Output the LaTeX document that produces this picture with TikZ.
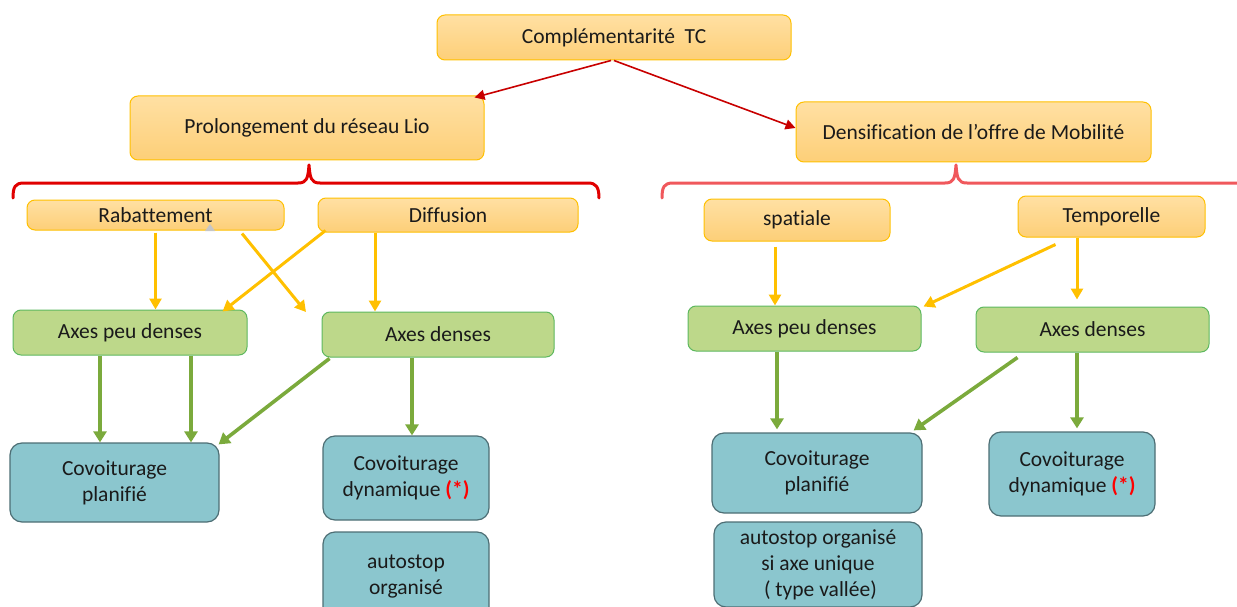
\documentclass[tikz,border=0pt]{standalone}
\usepackage{fontspec}
\setmainfont[Ligatures=CommonOff]{Carlito}
\usetikzlibrary{arrows.meta}
\definecolor{ogTop}{HTML}{FFE0A3}
\definecolor{ogBot}{HTML}{FDCF78}
\definecolor{ogBorder}{HTML}{FFC000}
\definecolor{grFill}{HTML}{BDD88A}
\definecolor{grBorder}{HTML}{5DB85F}
\definecolor{tlFill}{HTML}{8BC6CE}
\definecolor{tlBorder}{HTML}{4D6E74}
\definecolor{arrY}{HTML}{FFC000}
\definecolor{arrG}{HTML}{7BAA3C}
\definecolor{arrR}{HTML}{C80000}
\definecolor{brL}{HTML}{E00000}
\definecolor{brR}{HTML}{F0585C}
\definecolor{txt}{HTML}{1A1A1A}
\definecolor{star}{HTML}{FF0000}
\begin{document}
\begin{tikzpicture}[x=1pt,y=-1pt,
  base/.style={rounded corners=8pt, align=center, inner sep=0pt,
    font=\fontsize{21.5}{26}\selectfont, text=txt},
  obox/.style={base, draw=ogBorder, line width=1pt, top color=ogTop, bottom color=ogBot},
  gbox/.style={base, draw=grBorder, line width=1pt, fill=grFill},
  tbox/.style={base, draw=tlBorder, line width=1.2pt, fill=tlFill, rounded corners=12pt},
  yarr/.style={draw=arrY, line width=3pt, -{Triangle[width=12pt,length=11pt]}},
  garr/.style={draw=arrG, line width=3.6pt, -{Triangle[width=13pt,length=11pt]}},
  rarr/.style={draw=arrR, line width=1.6pt, -{Triangle[width=10pt,length=10pt]}},
  brace/.style={line width=3pt, line cap=round, line join=round}]
\useasboundingbox (0,0) rectangle (1237,607);
\clip (0,0) rectangle (1237,607);

% level 0 and 1
\node[obox, minimum width=354pt, minimum height=45pt] (top) at (614,37.5) {Complémentarité\ \ TC};
\node[obox, minimum width=354pt, minimum height=64pt] (prol) at (307,128) {Prolongement du réseau Lio};
\node[obox, minimum width=355pt, minimum height=60pt] (dens) at (973.5,132) {Densification de l’offre de Mobilité};

% brackets
\draw[brace, draw=brL] (13,198) .. controls (13,187) and (15,183) .. (24,183)
  -- (298,183) .. controls (307,183) and (308,178) .. (309,165)
  .. controls (310,178) and (311,183) .. (320,183)
  -- (588,183) .. controls (596,183) and (599,187) .. (599,198);
\draw[brace, draw=brR] (662,198) .. controls (662,187) and (664,183) .. (673,183)
  -- (945,183) .. controls (954,183) and (955,178) .. (956,165)
  .. controls (957,178) and (958,183) .. (967,183)
  -- (1245,183);

% level 2
\node[obox, minimum width=257pt, minimum height=30pt] (rab) at (155.5,215) {Rabattement};
\node[obox, minimum width=260pt, minimum height=34pt] (diff) at (448,215) {Diffusion};
\node[obox, minimum width=186pt, minimum height=42pt] (spat) at (797,220) {spatiale};
\node[obox, minimum width=187pt, minimum height=41pt] (temp) at (1111.5,216.5) {Temporelle};
\fill[gray!45] (205,231) -- (210,224) -- (215,231) -- cycle;

% level 3
\node[gbox, minimum width=234pt, minimum height=45pt] (apdA) at (130,332.5) {Axes peu denses};
\node[gbox, minimum width=232pt, minimum height=45pt] (adA) at (438,334.5) {Axes denses};
\node[gbox, minimum width=233pt, minimum height=45pt] (apdB) at (804.5,328.5) {Axes peu denses};
\node[gbox, minimum width=233pt, minimum height=45pt] (adB) at (1092.5,329.5) {Axes denses};

% level 4
\node[tbox, minimum width=209pt, minimum height=79pt] (cpA) at (114.5,482.5) {Covoiturage\\planifié};
\node[tbox, minimum width=166pt, minimum height=84pt] (cdA) at (406,478) {Covoiturage\\dynamique \textcolor{star}{\textbf{(*)}}};
\node[tbox, minimum width=166pt, minimum height=90pt] (asA) at (406,577) {autostop\\organisé};
\node[tbox, minimum width=210pt, minimum height=80pt] (cpB) at (817,473) {Covoiturage\\planifié};
\node[tbox, minimum width=208pt, minimum height=85pt] (asB) at (818,564.5) {autostop organisé\\si axe unique\\\ ( type vallée)};
\node[tbox, minimum width=166pt, minimum height=84pt] (cdB) at (1072,474) {Covoiturage\\dynamique \textcolor{star}{\textbf{(*)}}};

% red arrows
\draw[rarr] ([xshift=-3pt]top.south) -- ([xshift=-10pt,yshift=-2pt]prol.north east);
\draw[rarr] (top.south) -- ([yshift=4pt]dens.west);

% yellow arrows
\coordinate (freeEnd) at (306,312);
\draw[yarr] ([yshift=-2pt]rab.south) -- (rab.south |- apdA.north);
\draw[yarr] ([xshift=86.5pt,yshift=-3pt]rab.south) -- (freeEnd);
\draw[yarr] ([xshift=8pt,yshift=2pt]diff.south west) -- ([xshift=-25pt,yshift=-2pt]apdA.north east);
\draw[yarr] ([xshift=-73pt]diff.south) -- ([xshift=-73pt]diff.south |- adA.north);
\draw[yarr] ([xshift=-22pt,yshift=-5pt]spat.south) -- ([xshift=-22pt]spat.south |- apdB.north);
\draw[yarr] ([xshift=-56pt,yshift=-7pt]temp.south) -- ([xshift=2pt,yshift=-1pt]apdB.north east);
\draw[yarr] ([xshift=-34.5pt]temp.south) -- ([xshift=-34.5pt,yshift=7pt]temp.south |- adB.north);

% green arrows
\draw[garr] ([xshift=-30pt]apdA.south) -- ([xshift=-30pt]apdA.south |- cpA.north);
\draw[garr] ([xshift=61pt]apdA.south) -- ([xshift=61pt]apdA.south |- cpA.north);
\draw[garr] ([xshift=8pt,yshift=-1pt]adA.south west) -- ([xshift=-1pt,yshift=-2pt]cpA.north east);
\draw[garr] ([xshift=-26pt]adA.south) -- ([xshift=-26pt]adA.south |- cdA.north);
\draw[garr] ([xshift=-27.5pt]apdB.south) -- ([xshift=-27.5pt,yshift=3pt]apdB.south |- cpB.north);
\draw[garr] ([xshift=42pt,yshift=-5pt]adB.south west) -- ([xshift=-9pt,yshift=2pt]cpB.north east);
\draw[garr] ([xshift=-15.5pt]adB.south) -- ([xshift=-15.5pt,yshift=3pt]adB.south |- cdB.north);
\end{tikzpicture}
\end{document}
